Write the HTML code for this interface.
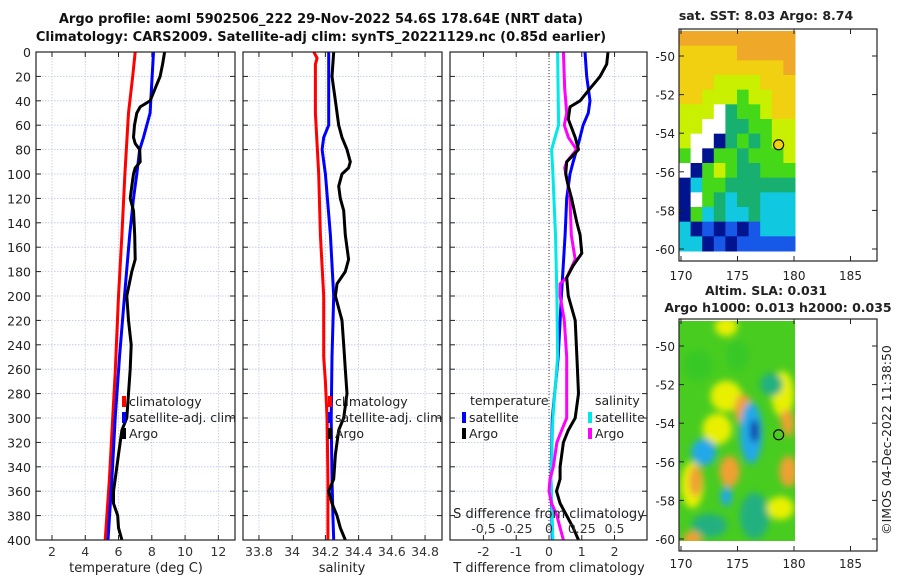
<!DOCTYPE html>
<html><head><meta charset="utf-8"><style>
body{margin:0;background:#fff;}
svg{display:block;font-family:"DejaVu Sans","Liberation Sans",sans-serif;}
</style></head><body>
<svg id="fig" width="900" height="580" viewBox="0 0 900 580" xmlns="http://www.w3.org/2000/svg">
<defs>
<filter id="blur" x="-20%" y="-20%" width="140%" height="140%"><feGaussianBlur stdDeviation="3.5"/></filter>
<clipPath id="clipSla"><rect x="679" y="321" width="116" height="220"/></clipPath>
</defs>
<g font-weight="bold" font-size="13" text-anchor="middle" fill="#111">
<text x="321" y="23">Argo profile: aoml 5902506_222 29-Nov-2022 54.6S 178.64E (NRT data)</text>
<text x="321" y="41">Climatology: CARS2009. Satellite-adj clim: synTS_20221129.nc (0.85d earlier)</text>
</g>
<g id="plots"></g>
<g id="maps"></g>
<text transform="translate(891,440) rotate(-90)" font-size="12.5" text-anchor="middle" fill="#222">©IMOS 04-Dec-2022 11:38:50</text>
</svg>
<script>
// ---- Data ----
const depthTicks=[0,20,40,60,80,100,120,140,160,180,200,220,240,260,280,300,320,340,360,380,400];
const tTicks=[2,4,6,8,10,12];
const sTicks=[33.8,34,34.2,34.4,34.6,34.8];
const sTickLabels=["33.8","34","34.2","34.4","34.6","34.8"];
const dTicks=[-2,-1,0,1,2];
const dsTicks=[-0.5,-0.25,0,0.25,0.5];
const dsTickLabels=["-0,5","-0.25","0","0.25","0.5"];

const climTDepth=[0,20,50,100,150,200,263,300,350,400];
const climT=[7.0,6.85,6.6,6.38,6.2,6.0,5.8,5.65,5.45,5.2];
const satTDepth=[0,50,70,80,100,120,150,200,250,300,350,400];
const satT=[8.1,7.9,7.5,7.27,7.1,6.9,6.67,6.36,6.06,5.8,5.6,5.37];
const argoTDepth=[0,10,20,30,40,45,50,60,70,75,80,90,95,100,110,120,130,150,170,180,200,220,240,260,280,300,310,330,350,360,370,380,390,400];
const argoT=[8.77,8.65,8.5,8.2,7.9,7.3,7.1,6.96,6.9,7.0,7.27,7.3,7.0,6.9,6.8,6.7,6.9,6.97,7.0,6.8,6.5,6.6,6.76,6.7,6.6,6.5,6.2,6.0,5.8,5.7,5.7,5.95,6.0,6.2];

const climSDepth=[0,5,10,50,100,150,200,250,270,300,350,400];
const climS=[34.13,34.15,34.14,34.14,34.16,34.17,34.19,34.19,34.2,34.21,34.215,34.215];
const satSDepth=[0,60,70,80,100,150,200,250,300,350,380,400];
const satS=[34.22,34.22,34.19,34.18,34.2,34.23,34.25,34.24,34.235,34.24,34.245,34.25];
const argoSDepth=[0,20,40,60,70,80,90,95,100,110,120,130,150,170,180,190,200,220,240,260,280,300,310,330,350,360,370,380,390,400];
const argoS=[34.25,34.24,34.26,34.28,34.3,34.33,34.35,34.34,34.3,34.28,34.29,34.31,34.32,34.34,34.32,34.27,34.26,34.3,34.31,34.32,34.33,34.31,34.28,34.26,34.25,34.22,34.24,34.27,34.29,34.32];

const dSatSDepth=[0,60,70,80,100,150,200,250,300,350,400];
const dSatS=[0.066,0.073,0.046,0.02,0.03,0.05,0.06,0.066,0.03,0.015,0.03];
const dSatTDepth=[0,20,40,50,60,75,90,100,120,150,200,250,300,350,400];
const dSatT=[1.1,1.15,1.25,1.2,1.04,0.9,0.74,0.64,0.54,0.49,0.38,0.28,0.1,0.06,0.1];
const dArgoSDepth=[0,30,50,60,70,80,90,95,110,120,150,170,185,190,200,220,250,300,310,320,340,350,360,370,380,390,400];
const dArgoS=[0.11,0.12,0.135,0.117,0.148,0.21,0.135,0.12,0.148,0.16,0.17,0.2,0.135,0.085,0.085,0.117,0.135,0.135,0.097,0.06,0.033,0.008,0.0,0.02,0.06,0.085,0.11];
const dArgoTDepth=[0,10,20,30,40,45,55,70,80,90,100,110,120,140,150,165,175,185,200,220,250,280,300,310,320,340,350,360,370,380,390,400];
const dArgoT=[1.8,1.76,1.56,1.25,0.95,0.64,0.59,0.8,0.9,0.54,0.51,0.59,0.69,0.85,0.95,1.0,0.74,0.54,0.59,0.8,0.85,0.9,0.8,0.59,0.44,0.34,0.34,0.23,0.34,0.54,0.74,0.9];

// SST map coarse grid (hand-read colour classes)
const sstRows=["OOOOOOOOOO","YYYYYOOOOO","YYYYYYYYYO","YYYLLLLYYY","YYLLLGLLYY","LLLWTGGLYY","LLWWTTGGLL","LWWNTGTGLL","GWNGGTGGGL","WNGLGTTGGG","NCGGTTTTTT","NWGTCTTCCC","NGCTCCTCCC","CNBNBNBCCC","CCNBNBBBBB"];
// SLA blobs: lon, lat, rx(deg), ry(deg), class
const slaLon=[174,175.5,173.2,179,179.5,171,171.3,174.3,179.5,179.2,176.2,176.5,172,174,172.5,176.5,178.8,171,174,175,178,171.5];
const slaLat=[-52.6,-53.3,-54.3,-52.5,-54,-57.2,-57,-56.5,-56.5,-53.8,-54.5,-54.4,-55.5,-57.8,-59.3,-58.8,-58.4,-60,-49,-50.5,-52,-51];
const slaRx=[1.4,0.8,1.3,1.0,0.5,1.0,0.6,0.9,0.8,0.4,1.0,0.35,1.1,0.5,1.6,1.3,1.2,0.8,1.0,1.0,1.0,1.3];
const slaRy=[0.8,0.8,0.8,1.2,0.7,1.2,0.8,0.8,0.8,0.5,1.6,0.6,0.7,0.5,0.6,1.2,0.6,0.4,0.5,0.8,0.6,0.8];
const slaCls=["Y","O","Y","Y","O","Y","O","O","O","O","C","N","C","C","T","T","Y","O","Y","G","T","G"];

const NS="http://www.w3.org/2000/svg";
function mk(tag,attrs,parent){const e=document.createElementNS(NS,tag);for(const k in attrs)e.setAttribute(k,attrs[k]);parent.appendChild(e);return e;}
const plots=document.getElementById('plots');
const Y0=52,Y1=540;
function yScale(d){return Y0+(d/400)*(Y1-Y0);}

function panel(name,x0,x1,xmin,xmax){
  const g=mk('g',{},plots);
  
  
  const xs=v=>x0+(v-xmin)/(xmax-xmin)*(x1-x0);
  return {g,xs,x0,x1};
}
function grid(p,xt,xsFn){
  depthTicks.forEach(d=>{const y=yScale(d);
    const l=mk('line',{x1:p.x0,x2:p.x1,y1:y,y2:y,stroke:'#b8c2ea','stroke-width':0.8,'stroke-dasharray':'1.5,1.5'},p.g);
    
    
    mk('line',{x1:p.x0,x2:p.x0+5,y1:y,y2:y,stroke:'#222','stroke-width':1},p.g);
    mk('line',{x1:p.x1-5,x2:p.x1,y1:y,y2:y,stroke:'#222','stroke-width':1},p.g);
  });
  xt.forEach(v=>{const x=xsFn(v);
    const l=mk('line',{x1:x,x2:x,y1:Y0,y2:Y1,stroke:'#c0c6e8','stroke-width':0.8,'stroke-dasharray':'1.5,1.5'},p.g);
    
    
    mk('line',{x1:x,x2:x,y1:Y1-5,y2:Y1,stroke:'#222','stroke-width':1},p.g);
    mk('line',{x1:x,x2:x,y1:Y0,y2:Y0+5,stroke:'#222','stroke-width':1},p.g);
  });
}
function frame(p){const r=mk('rect',{x:p.x0,y:Y0,width:p.x1-p.x0,height:Y1-Y0,fill:'none',stroke:'#222','stroke-width':1.2},p.g);
  
  }
function line(p,xsFn,vals,depths,color,name){
  const pts=vals.map((v,i)=>xsFn(v).toFixed(1)+','+yScale(depths[i]).toFixed(1)).join(' ');
  const pl=mk('polyline',{points:pts,fill:'none',stroke:color,'stroke-width':3,'stroke-linejoin':'round'},p.g);
  
  
}
function xLabels(p,xsFn,ticks,labels,y){
  ticks.forEach((v,i)=>{const t=mk('text',{x:xsFn(v),y:y,'font-size':12.5,'text-anchor':'middle',fill:'#333'},p.g);t.textContent=labels[i];
    
    });
}
function txt(g,x,y,s,size,anchor,name){const t=mk('text',{x:x,y:y,'font-size':size,'text-anchor':anchor||'start',fill:'#222'},g);t.textContent=s;
  
  return t;}
function legendItem(g,x,y,color,label){
  const r=mk('rect',{x:x,y:y-10,width:4,height:11,fill:color},g);
  
  
  txt(g,x+7,y,label,12.5,'start','legend-entry');
}

// Panel 1 temperature
const p1=panel('temperature-panel',36,235,1.04,13.0);
grid(p1,tTicks,p1.xs);
line(p1,p1.xs,climT,climTDepth,'#ff0000','climatology-temperature-line');
line(p1,p1.xs,satT,satTDepth,'#0000ff','satellite-temperature-line');
line(p1,p1.xs,argoT,argoTDepth,'#000','argo-temperature-line');
frame(p1);
xLabels(p1,p1.xs,tTicks,tTicks.map(String),556);
txt(p1.g,136,572,'temperature (deg C)',13,'middle','x-axis-title');
depthTicks.forEach(d=>txt(p1.g,31,yScale(d)+5,String(d),12.5,'end','y-tick-label'));
legendItem(p1.g,122,406,'#ff0000','climatology');
legendItem(p1.g,122,422,'#0000ff','satellite-adj. clim');
legendItem(p1.g,122,438,'#000','Argo');

// Panel 2 salinity
const p2=panel('salinity-panel',243,442,33.704,34.902);
grid(p2,sTicks,p2.xs);
line(p2,p2.xs,climS,climSDepth,'#ff0000','climatology-salinity-line');
line(p2,p2.xs,satS,satSDepth,'#0000ff','satellite-salinity-line');
line(p2,p2.xs,argoS,argoSDepth,'#000','argo-salinity-line');
frame(p2);
xLabels(p2,p2.xs,sTicks,sTickLabels,556);
txt(p2.g,342,572,'salinity',13,'middle','x-axis-title');
legendItem(p2.g,328,406,'#ff0000','climatology');
legendItem(p2.g,328,422,'#0000ff','satellite-adj. clim');
legendItem(p2.g,328,438,'#000','Argo');

// Panel 3 differences
const p3=panel('difference-panel',450,647,-3.02,2.99);
const ss=v=>549+v*131;
grid(p3,dTicks,p3.xs);
const zl=mk('line',{x1:549,x2:549,y1:Y0,y2:Y1,stroke:'#333','stroke-width':1,'stroke-dasharray':'1,2'},p3.g);


line(p3,p3.xs,dSatT,dSatTDepth,'#0000ff','satellite-temperature-difference-line');
line(p3,ss,dSatS,dSatSDepth,'#00e8e8','satellite-salinity-difference-line');
line(p3,ss,dArgoS,dArgoSDepth,'#ff00ff','argo-salinity-difference-line');
line(p3,p3.xs,dArgoT,dArgoTDepth,'#000','argo-temperature-difference-line');
frame(p3);
xLabels(p3,p3.xs,dTicks,dTicks.map(String),556);
txt(p3.g,549,572,'T difference from climatology',13,'middle','x-axis-title');
txt(p3.g,549,518,'S difference from climatology',13,'middle','secondary-axis-title');
xLabels(p3,ss,dsTicks,dsTickLabels,533);
txt(p3.g,470,405,'temperature',12.5,'start','legend-title');
legendItem(p3.g,462,422,'#0000ff','satellite');
legendItem(p3.g,462,438,'#000','Argo');
txt(p3.g,595,405,'salinity',12.5,'start','legend-title');
legendItem(p3.g,588,422,'#00e8e8','satellite');
legendItem(p3.g,588,438,'#ff00ff','Argo');

// ---- Maps ----
const maps=document.getElementById('maps');
const lonX=lon=>681+(lon-170)*11.3;
const sstCol={O:'#f0a828',Y:'#f0d010',L:'#c8f000',G:'#44d818',T:'#18b070',C:'#10c8e0',B:'#1858e8',N:'#001490',W:'#ffffff'};
const slaCol={C:'#20a8e8',N:'#0828a0',O:'#f0a030',Y:'#e8f000',T:'#20b080',G:'#38c828'};
function mapFrame(g,y0,y1){
  const r=mk('rect',{x:679,y:y0,width:198,height:y1-y0,fill:'none',stroke:'#222','stroke-width':1.2},g);
  
  
}
function mapTicks(g,latY,y0,y1,lblY){
  [-50,-52,-54,-56,-58,-60].forEach(l=>{const y=latY(l);
    mk('line',{x1:679,x2:684,y1:y,y2:y,stroke:'#222'},g);mk('line',{x1:872,x2:877,y1:y,y2:y,stroke:'#222'},g);
    txt(g,675,y+5,String(l),12,'end','map-lat-label');});
  [170,175,180,185].forEach(l=>{const x=lonX(l);
    mk('line',{x1:x,x2:x,y1:y1-5,y2:y1,stroke:'#222'},g);mk('line',{x1:x,x2:x,y1:y0,y2:y0+5,stroke:'#222'},g);
    txt(g,x,lblY,String(l),12,'middle','map-lon-label');});
}
// SST map
const gm1=mk('g',{},maps);


const latY1=lat=>31+25+(-50-lat)*19.3;
const ncol=sstRows[0].length;
const cw=116/ncol,ch=220/sstRows.length;
sstRows.forEach((row,r)=>{[...row].forEach((c,k)=>{
  const rc=mk('rect',{x:679+k*cw,y:31+r*ch,width:cw+0.5,height:ch+0.5,fill:sstCol[c]},gm1);
  
  
});});
mapFrame(gm1,29,261);
mapTicks(gm1,latY1,29,261,280);
txt(gm1,766,20,'sat. SST: 8.03 Argo: 8.74',12.5,'middle','sst-map-title').setAttribute('font-weight','bold');
const c1=mk('circle',{cx:lonX(178.64),cy:latY1(-54.6),r:5,fill:'#f2d010',stroke:'#111','stroke-width':1.2},gm1);



// SLA map
const gm2=mk('g',{},maps);


const latY2=lat=>346+(-50-lat)*19.3;
mk('rect',{x:679,y:321,width:116,height:220,fill:'#48cc20'},gm2);
const bl=mk('g',{'clip-path':'url(#clipSla)'},gm2);
const bi=mk('g',{filter:'url(#blur)'},bl);
slaLon.forEach((lon,i)=>{
  const e=mk('ellipse',{cx:lonX(lon),cy:latY2(slaLat[i]),rx:slaRx[i]*11.3,ry:slaRy[i]*19.3,fill:slaCol[slaCls[i]]},bi);
  
  
});
mapFrame(gm2,319,551);
mapTicks(gm2,latY2,319,551,568);
txt(gm2,766,295,'Altim. SLA: 0.031',12.5,'middle','sla-map-title').setAttribute('font-weight','bold');
txt(gm2,778,312,'Argo h1000: 0.013 h2000: 0.035',12.5,'middle','sla-map-subtitle').setAttribute('font-weight','bold');
const c2=mk('circle',{cx:lonX(178.64),cy:latY2(-54.6),r:5,fill:'none',stroke:'#111','stroke-width':1.2},gm2);


</script>
</body></html>
